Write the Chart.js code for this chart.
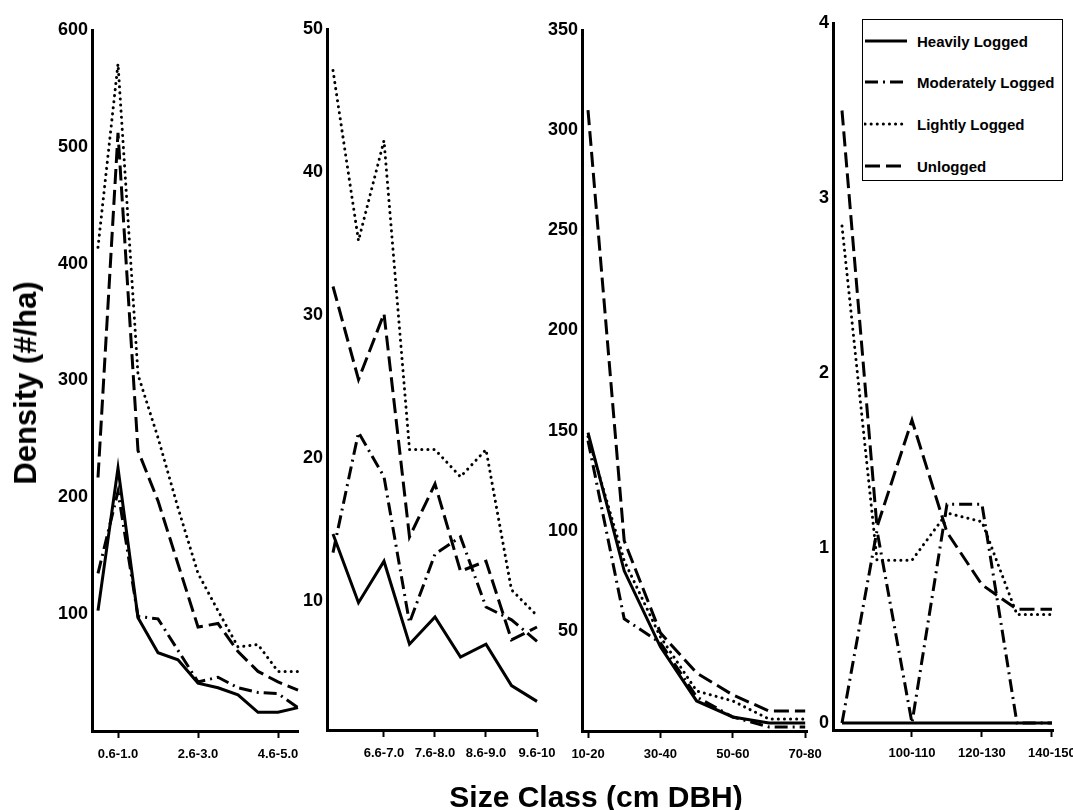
<!DOCTYPE html>
<html>
<head>
<meta charset="utf-8">
<script src="https://cdn.jsdelivr.net/npm/chart.js@4.4.0/dist/chart.umd.min.js"></script>
<style>
body{margin:0;background:#fff;font-family:'Liberation Sans',Arial,sans-serif;}
#wrap{position:relative;width:1073px;height:810px;overflow:hidden;}
#wrap canvas{position:absolute;left:0;top:0;}
.title{position:absolute;white-space:nowrap;font-weight:bold;color:#000;transform:translate(-50%,-50%);}
#ytitle{left:26px;top:383px;font-size:31px;transform:translate(-50%,-50%) rotate(-90deg);}
#xtitle{left:596px;top:797px;font-size:30px;}
#legend{position:absolute;left:862px;top:19px;width:199px;height:160px;border:1.5px solid #000;background:#fff;}
.lrow{position:absolute;left:0;height:18px;display:flex;align-items:center;}
.lrow svg{margin-left:1px;}
.lrow span{margin-left:9px;font-size:15px;font-weight:bold;color:#000;}
</style>
</head>
<body>
<div id="wrap">
	<canvas id="c1" width="1073" height="810"></canvas>
	<canvas id="c2" width="1073" height="810"></canvas>
	<canvas id="c3" width="1073" height="810"></canvas>
	<canvas id="c4" width="1073" height="810"></canvas>
	<div class="title" id="ytitle">Density (#/ha)</div>
	<div class="title" id="xtitle">Size Class (cm DBH)</div>
	<div id="legend"></div>
</div>
<script>
// 계열 이름 (범례 순서)
var seriesNames = ['Heavily Logged', 'Moderately Logged', 'Lightly Logged', 'Unlogged'];

// 패널 1 : 0.1 ~ 5.5 cm
var p1Classes = ['0.1-0.5', '0.6-1.0', '1.1-1.5', '1.6-2.0', '2.1-2.5', '2.6-3.0', '3.1-3.5', '3.6-4.0', '4.1-4.5', '4.6-5.0', '5.1-5.5'];
var p1Heavy    = [103, 225, 97, 67, 61, 41, 37, 31, 16, 16, 20];
var p1Moderate = [135, 205, 98, 96, 69, 42, 46, 37, 33, 32, 20];
var p1Light    = [414, 571, 305, 251, 191, 135, 103, 72, 74, 51, 51];
var p1Unlogged = [217, 512, 240, 197, 143, 89, 92, 68, 51, 42, 35];
var p1XLabels  = ['0.6-1.0', '2.6-3.0', '4.6-5.0'];
var p1YTicks   = [100, 200, 300, 400, 500, 600];

// 패널 2 : 5.6 ~ 10 cm
var p2Classes = ['5.6-6.0', '6.1-6.5', '6.6-7.0', '7.1-7.5', '7.6-8.0', '8.1-8.5', '8.6-9.0', '9.1-9.5', '9.6-10'];
var p2Heavy    = [14.7, 9.9, 12.8, 7.0, 8.9, 6.1, 7.0, 4.1, 3.0];
var p2Moderate = [13.4, 21.8, 18.7, 8.5, 13.3, 14.5, 9.6, 8.7, 7.2];
var p2Light    = [47.1, 35.2, 42.2, 20.6, 20.6, 18.7, 20.6, 10.8, 9.0];
var p2Unlogged = [32.0, 25.5, 30.1, 14.5, 18.2, 12.1, 12.8, 7.3, 8.2];
var p2XLabels  = ['6.6-7.0', '7.6-8.0', '8.6-9.0', '9.6-10'];
var p2YTicks   = [10, 20, 30, 40, 50];

// 패널 3 : 10 ~ 80 cm
var p3Classes = ['10-20', '20-30', '30-40', '40-50', '50-60', '60-70', '70-80'];
var p3Heavy    = [149, 80, 42, 15, 7, 4, 4];
var p3Moderate = [145, 56, 44, 17, 7, 2, 2];
var p3Light    = [147, 85, 47, 20, 15, 6, 6];
var p3Unlogged = [310, 95, 49, 29, 18, 10, 10];
var p3XLabels  = ['10-20', '30-40', '50-60', '70-80'];
var p3YTicks   = [50, 100, 150, 200, 250, 300, 350];

// 패널 4 : 80 ~ 150 cm
var p4Classes = ['80-90', '90-100', '100-110', '110-120', '120-130', '130-140', '140-150'];
var p4Heavy    = [0, 0, 0, 0, 0, 0, 0];
var p4Moderate = [0, 1.1, 0, 1.25, 1.25, 0, 0];
var p4Light    = [2.84, 0.93, 0.93, 1.2, 1.15, 0.62, 0.62];
var p4Unlogged = [3.5, 1.12, 1.73, 1.09, 0.79, 0.65, 0.65];
var p4XLabels  = ['100-110', '120-130', '140-150'];
var p4YTicks   = [0, 1, 2, 3, 4];

// 선 모양 (실선, 일점쇄선, 점선, 파선)
var lineDash = [[], [13, 5, 2, 5], [0.1, 6], [15, 6]];
var lineCap  = ['butt', 'butt', 'round', 'butt'];
var svgDash  = ['none', '13 5 2 5', '0.1 6', '15 6'];

Chart.defaults.font.family = "'Liberation Sans', Arial, Helvetica, sans-serif";
Chart.defaults.color = '#000';

// 패널 위치 (화면 픽셀)
var panels = [
	{id: 'c1', classes: p1Classes, series: [p1Heavy, p1Moderate, p1Light, p1Unlogged], xLabels: p1XLabels, yTicks: p1YTicks,
	 yMin: 0, yMax: 600, xMin: -0.3, xMax: 10, left: 92, right: 298, top: 30, bottom: 731, yAxisW: 92},
	{id: 'c2', classes: p2Classes, series: [p2Heavy, p2Moderate, p2Light, p2Unlogged], xLabels: p2XLabels, yTicks: p2YTicks,
	 yMin: 1, yMax: 50, xMin: -0.235, xMax: 8, left: 327, right: 537, top: 29, bottom: 730, yAxisW: 60},
	{id: 'c3', classes: p3Classes, series: [p3Heavy, p3Moderate, p3Light, p3Unlogged], xLabels: p3XLabels, yTicks: p3YTicks,
	 yMin: 0, yMax: 350, xMin: -0.166, xMax: 6.05, left: 582, right: 807, top: 30, bottom: 731, yAxisW: 60},
	{id: 'c4', classes: p4Classes, series: [p4Heavy, p4Moderate, p4Light, p4Unlogged], xLabels: p4XLabels, yTicks: p4YTicks,
	 yMin: -0.04, yMax: 4, xMin: -0.257, xMax: 6.03, left: 833, right: 1053, top: 23, bottom: 730, yAxisW: 40}
];

function makePanel(p){
	var datasets = [];
	for(var s=0; s<seriesNames.length; s++){
		datasets.push({
			label : seriesNames[s],
			data : p.series[s].map(function(v, i){ return {x: i, y: v}; }),
			borderColor : '#000',
			borderWidth : 3,
			borderDash : lineDash[s],
			borderCapStyle : lineCap[s],
			pointRadius : 0,
			fill : false,
			tension : 0,
			clip : false
		});
	}
	new Chart(document.getElementById(p.id), {
		type : 'line',
		data : {datasets: datasets},
		options : {
			responsive : false,
			animation : false,
			devicePixelRatio : 1,
			layout : {padding: {left: p.left - p.yAxisW, right: 1073 - p.right, top: p.top, bottom: 0}},
			plugins : {legend: {display: false}, tooltip: {enabled: false}},
			scales : {
				x : {
					type : 'linear',
					min : p.xMin,
					max : p.xMax,
					afterBuildTicks : function(sc){
						sc.ticks = p.xLabels.map(function(l){ return {value: p.classes.indexOf(l)}; });
					},
					afterFit : function(sc){
						sc.height = 810 - p.bottom;
						sc.paddingLeft = 0;
						sc.paddingRight = 0;
					},
					ticks : {
						callback : function(v){ return p.classes[v]; },
						font : {size: 13, weight: 'bold'},
						color : '#000',
						padding : 9,
						maxRotation : 0,
						autoSkip : false
					},
					grid : {drawOnChartArea: false, drawTicks: true, tickLength: 7, tickWidth: 2, tickColor: '#000'},
					border : {color: '#000', width: 3}
				},
				y : {
					min : p.yMin,
					max : p.yMax,
					afterBuildTicks : function(sc){
						sc.ticks = p.yTicks.map(function(v){ return {value: v}; });
					},
					afterFit : function(sc){ sc.width = p.yAxisW; },
					ticks : {font: {size: 18, weight: 'bold'}, color: '#000', padding: 4},
					grid : {display: false, drawTicks: false},
					border : {color: '#000', width: 3}
				}
			}
		}
	});
}

// 범례 (선 샘플 + 이름)
function makeLegend(){
	var box = document.getElementById('legend');
	var rowTop = [12, 53, 95, 137];
	for(var s=0; s<seriesNames.length; s++){
		var row = document.createElement('div');
		row.className = 'lrow';
		row.style.top = rowTop[s] + 'px';
		row.innerHTML = '<svg width="44" height="8"><line x1="1" y1="4" x2="43" y2="4" stroke="#000" stroke-width="3"'
			+ ' stroke-dasharray="' + svgDash[s] + '" stroke-linecap="' + lineCap[s] + '"/></svg>'
			+ '<span>' + seriesNames[s] + '</span>';
		box.appendChild(row);
	}
}

for(var k=0; k<panels.length; k++){
	makePanel(panels[k]);
}
makeLegend();
</script>
</body>
</html>
